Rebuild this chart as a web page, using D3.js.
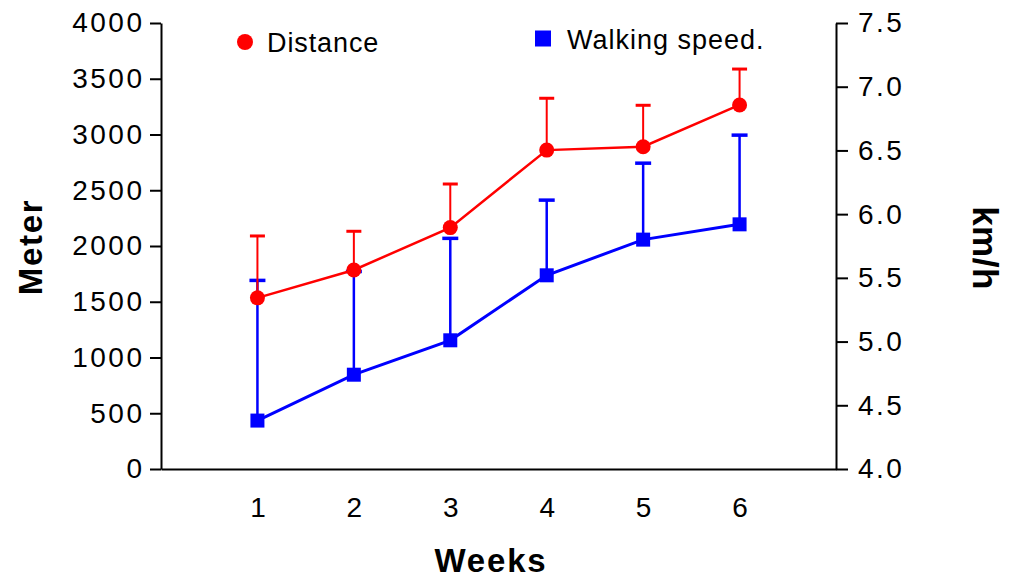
<!DOCTYPE html>
<html>
<head>
<meta charset="utf-8">
<script src="https://cdn.jsdelivr.net/npm/d3@7"></script>
<style>
  html, body { margin: 0; padding: 0; background: #fff; }
  svg { display: block; font-family: "Liberation Sans", Arial, Helvetica, sans-serif; }
</style>
</head>
<body>
<svg id="chart" width="1017" height="580"></svg>
<script>
// Weekly walking test results: mean distance (m) and walking speed (km/h), with upper SD bars
const weeks = [1, 2, 3, 4, 5, 6];
const distance = [1535, 1785, 2165, 2860, 2890, 3265];
const distanceSD = [555, 347, 391, 465, 372, 322];
const speed = [4.38, 4.74, 5.01, 5.52, 5.80, 5.92];
const speedSD = [1.10, 0.81, 0.80, 0.59, 0.60, 0.70];
const distanceTicks = [0, 500, 1000, 1500, 2000, 2500, 3000, 3500, 4000];
const speedTicks = [4.0, 4.5, 5.0, 5.5, 6.0, 6.5, 7.0, 7.5];

const RED = "#ff0000";
const BLUE = "#0000ff";

const svg = d3.select("#chart");
const plotLeft = 161, plotRight = 836, plotTop = 23, plotBottom = 469;

const x = d3.scaleLinear().domain([0, 7]).range([plotLeft, plotRight]);
const yDist = d3.scaleLinear().domain([0, 4000]).range([plotBottom, plotTop]);
const ySpeed = d3.scaleLinear().domain([4, 7.5]).range([plotBottom, plotTop]);

// Axes
const axisLeft = d3.axisLeft(yDist).tickValues(distanceTicks).tickSize(11).tickSizeOuter(0).tickPadding(5.5)
  .tickFormat(d3.format("d"));
const axisRight = d3.axisRight(ySpeed).tickValues(speedTicks).tickSize(12).tickSizeOuter(0).tickPadding(10)
  .tickFormat(d3.format(".1f"));
const axisBottom = d3.axisBottom(x).tickValues(weeks).tickSize(0).tickSizeOuter(0).tickPadding(28)
  .tickFormat(d3.format("d"));

function styleAxis(g, spacing) {
  g.selectAll("path, line").attr("stroke", "#000").attr("stroke-width", 2);
  g.selectAll("text").attr("fill", "#000").style("font-size", "28px")
    .style("letter-spacing", spacing + "px");
  g.attr("font-family", null).attr("font-size", null);
}

svg.append("g").attr("transform", `translate(0,${plotBottom})`).call(axisBottom).call(g => styleAxis(g, 0));
svg.append("g").attr("transform", `translate(${plotLeft},0)`).call(axisLeft).call(g => styleAxis(g, 2.5));
svg.append("g").attr("transform", `translate(${plotRight},0)`).call(axisRight).call(g => styleAxis(g, 2.5));

// Axis titles
svg.append("text").attr("transform", "translate(42,247) rotate(-90)")
  .attr("text-anchor", "middle").style("font-size", "33px").style("font-weight", "bold")
  .style("letter-spacing", "1.7px").text("Meter");
svg.append("text").attr("transform", "translate(973,248) rotate(90)")
  .attr("text-anchor", "middle").style("font-size", "35px").style("font-weight", "bold")
  .style("letter-spacing", "0.5px").text("km/h");
svg.append("text").attr("x", 491).attr("y", 572)
  .attr("text-anchor", "middle").style("font-size", "33px").style("font-weight", "bold")
  .style("letter-spacing", "1.8px").text("Weeks");

// Series drawing helper: upper error bars, caps and connecting line
function drawSeries(values, sd, y, color, capHalf, barWidth) {
  const g = svg.append("g");
  const bars = g.selectAll("g.err").data(weeks).join("g").attr("class", "err");
  bars.append("line")
    .attr("x1", (d) => x(d)).attr("x2", (d) => x(d))
    .attr("y1", (d, i) => y(values[i])).attr("y2", (d, i) => y(values[i] + sd[i]))
    .attr("stroke", color).attr("stroke-width", barWidth);
  bars.append("line")
    .attr("x1", (d) => x(d) - capHalf).attr("x2", (d) => x(d) + capHalf)
    .attr("y1", (d, i) => y(values[i] + sd[i])).attr("y2", (d, i) => y(values[i] + sd[i]))
    .attr("stroke", color).attr("stroke-width", barWidth + 1);
  const line = d3.line().x((d) => x(d)).y((d, i) => y(values[i]));
  g.append("path").datum(weeks).attr("d", line)
    .attr("fill", "none").attr("stroke", color).attr("stroke-width", barWidth + 0.5);
  return g;
}

// Walking speed (right axis)
const gSpeed = drawSeries(speed, speedSD, ySpeed, BLUE, 8, 2.5);
gSpeed.selectAll("rect.pt").data(weeks).join("rect").attr("class", "pt")
  .attr("x", (d) => x(d) - 7).attr("y", (d, i) => ySpeed(speed[i]) - 7)
  .attr("width", 14).attr("height", 14).attr("fill", BLUE);

// Distance (left axis)
const gDist = drawSeries(distance, distanceSD, yDist, RED, 7.5, 2);
gDist.selectAll("circle.pt").data(weeks).join("circle").attr("class", "pt")
  .attr("cx", (d) => x(d)).attr("cy", (d, i) => yDist(distance[i]))
  .attr("r", 7.5).attr("fill", RED);

// Legend
const legend = svg.append("g");
legend.append("circle").attr("cx", 245).attr("cy", 42).attr("r", 8).attr("fill", RED);
legend.append("text").attr("x", 267).attr("y", 52).style("font-size", "27px")
  .style("letter-spacing", "0.9px").text("Distance");
legend.append("rect").attr("x", 535).attr("y", 30.5).attr("width", 16).attr("height", 16).attr("fill", BLUE);
legend.append("text").attr("x", 567).attr("y", 48.5).style("font-size", "27px")
  .style("letter-spacing", "1px").text("Walking speed.");
</script>
</body>
</html>
